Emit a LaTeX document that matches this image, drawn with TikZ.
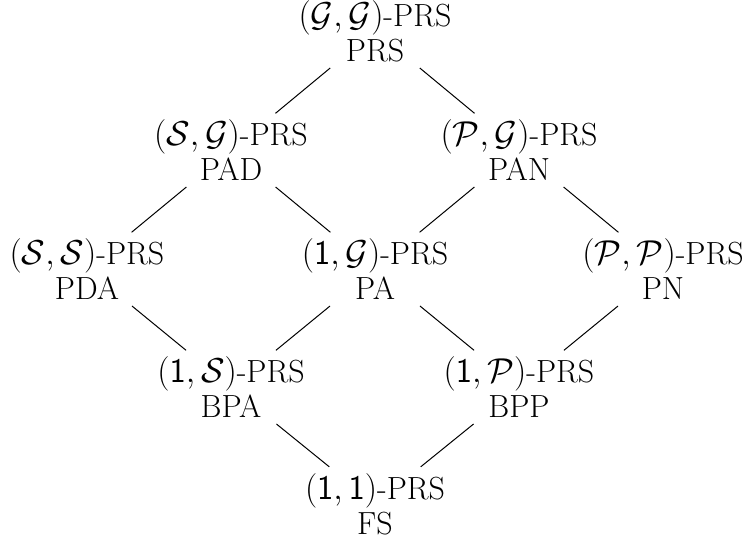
\documentclass[tikz,border=0pt]{standalone}
\begin{document}
\begin{tikzpicture}[x=0.5pt,y=-0.5pt,
  lat/.style={align=center, anchor=south, inner sep=3pt, font=\fontsize{16}{17.5}\selectfont},
  edge/.style={line width=0.5pt}]
\useasboundingbox (0,0) rectangle (742,540);
\node[lat] (gg) at (375,68) {$(\mathcal{G},\mathcal{G})$-PRS\\PRS};
\node[lat] (sg) at (231,187) {$(\mathcal{S},\mathcal{G})$-PRS\\PAD};
\node[lat] (pg) at (519,187) {$(\mathcal{P},\mathcal{G})$-PRS\\PAN};
\node[lat] (ss) at (87,306) {$(\mathcal{S},\mathcal{S})$-PRS\\PDA};
\node[lat] (og) at (375,306) {$(\mathsf{1},\mathcal{G})$-PRS\\PA};
\node[lat] (pp) at (663,306) {$(\mathcal{P},\mathcal{P})$-PRS\\PN};
\node[lat] (os) at (231,424) {$(\mathsf{1},\mathcal{S})$-PRS\\BPA};
\node[lat] (op) at (519,424) {$(\mathsf{1},\mathcal{P})$-PRS\\BPP};
\node[lat] (oo) at (375,541) {$(\mathsf{1},\mathsf{1})$-PRS\\FS};
\draw[edge] (gg) -- (sg);
\draw[edge] (gg) -- (pg);
\draw[edge] (sg) -- (ss);
\draw[edge] (sg) -- (og);
\draw[edge] (pg) -- (og);
\draw[edge] (pg) -- (pp);
\draw[edge] (ss) -- (os);
\draw[edge] (og) -- (os);
\draw[edge] (og) -- (op);
\draw[edge] (pp) -- (op);
\draw[edge] (os) -- (oo);
\draw[edge] (op) -- (oo);
\end{tikzpicture}
\end{document}
